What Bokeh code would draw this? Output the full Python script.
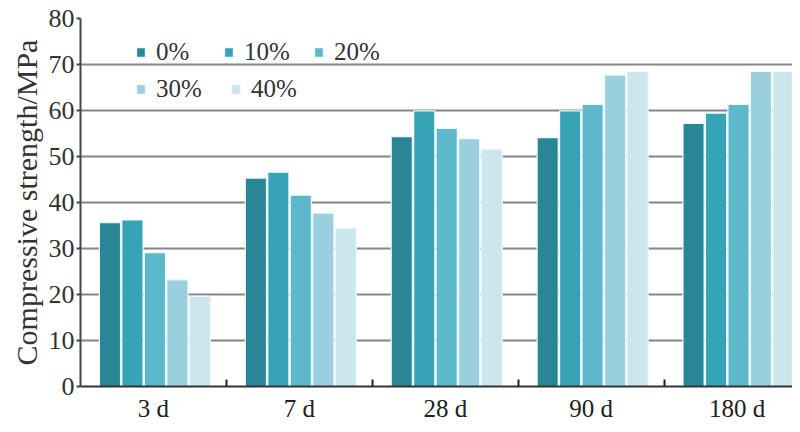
from bokeh.plotting import figure
from bokeh.models import (ColumnDataSource, FixedTicker, Legend, LegendItem, Range1d)
from bokeh.embed import file_html
from bokeh.resources import INLINE

# ---- data ----
categories = ["3 d", "7 d", "28 d", "90 d", "180 d"]
series = ["0%", "10%", "20%", "30%", "40%"]
s0 = [35.6, 45.3, 54.3, 54.1, 57.2]
s10 = [36.2, 46.6, 59.9, 59.9, 59.4]
s20 = [29.1, 41.6, 56.1, 61.3, 61.3]
s30 = [23.2, 37.7, 53.9, 67.7, 68.5]
s40 = [19.6, 34.4, 51.6, 68.5, 68.5]
y_ticks = [0, 10, 20, 30, 40, 50, 60, 70, 80]

values = [s0, s10, s20, s30, s40]
colors = ["#2a8597", "#37a3b7", "#5db8cc", "#9ad0dd", "#cbe6ed"]

FONT = "Liberation Serif"

p = figure(width=792, height=424, output_backend="svg", toolbar_location=None,
           x_range=Range1d(0, 4.88), y_range=Range1d(0, 80),
           min_border_left=80, min_border_right=0, min_border_top=18,
           min_border_bottom=38)
p.outline_line_color = None
p.background_fill_color = "white"

pitch = 0.154
width = 0.145
centers = [i + 0.5 for i in range(len(categories))]
renderers = []
for k, (name, vals, col) in enumerate(zip(series, values, colors)):
    xs = [c + (k - 2) * pitch + 0.01 for c in centers]
    src = ColumnDataSource(dict(x=xs, top=vals))
    r = p.vbar(x="x", top="top", width=width, bottom=0, source=src,
               fill_color=col, line_color="#eef9fb", line_width=1.2)
    renderers.append(r)

# axes
xa = p.xaxis[0]
xa.ticker = FixedTicker(ticks=centers, minor_ticks=[1, 2, 3, 4])
xa.major_label_overrides = {c: lab for c, lab in zip(centers, categories)}
xa.major_tick_in = 0
xa.major_tick_out = 0
xa.minor_tick_in = 7
xa.minor_tick_out = 0
xa.minor_tick_line_color = "#222222"
xa.minor_tick_line_width = 2
xa.axis_line_color = "#333333"
xa.axis_line_width = 2
xa.major_label_text_font = FONT
xa.major_label_text_font_size = "25px"
xa.major_label_text_color = "#222222"
xa.major_label_standoff = 8

ya = p.yaxis[0]
ya.ticker = FixedTicker(ticks=y_ticks)
ya.minor_tick_line_color = None
ya.major_tick_in = 0
ya.major_tick_out = 4
ya.major_tick_line_color = "#444444"
ya.major_tick_line_width = 2
ya.axis_line_color = "#444444"
ya.axis_line_width = 2
ya.major_label_text_font = FONT
ya.major_label_text_font_size = "26px"
ya.major_label_text_color = "#333333"
ya.major_label_standoff = 2
ya.axis_label = "Compressive strength/MPa"
ya.axis_label_text_font = FONT
ya.axis_label_text_font_size = "30px"
ya.axis_label_text_font_style = "normal"
ya.axis_label_text_color = "#333333"
ya.axis_label_standoff = 3

p.xgrid.grid_line_color = None
p.ygrid.ticker = FixedTicker(ticks=y_ticks)
p.ygrid.grid_line_color = "#858585"
p.ygrid.grid_line_width = 2

# one legend box per entry, placed like the reference's 3 + 2 arrangement
legend_locs = [(55, 320), (143, 320), (233, 320), (55, 283), (150, 283)]
for s, r, loc in zip(series, renderers, legend_locs):
    lg = Legend(items=[LegendItem(label=s, renderers=[r])],
                location=loc, orientation="vertical",
                background_fill_alpha=0, border_line_color=None,
                label_text_font=FONT, label_text_font_size="25px",
                label_text_color="#333333", glyph_width=11, glyph_height=12,
                label_standoff=10, spacing=0, label_height=28,
                padding=0, margin=0)
    p.add_layout(lg)

open("out.html", "w").write(file_html(p, INLINE))
